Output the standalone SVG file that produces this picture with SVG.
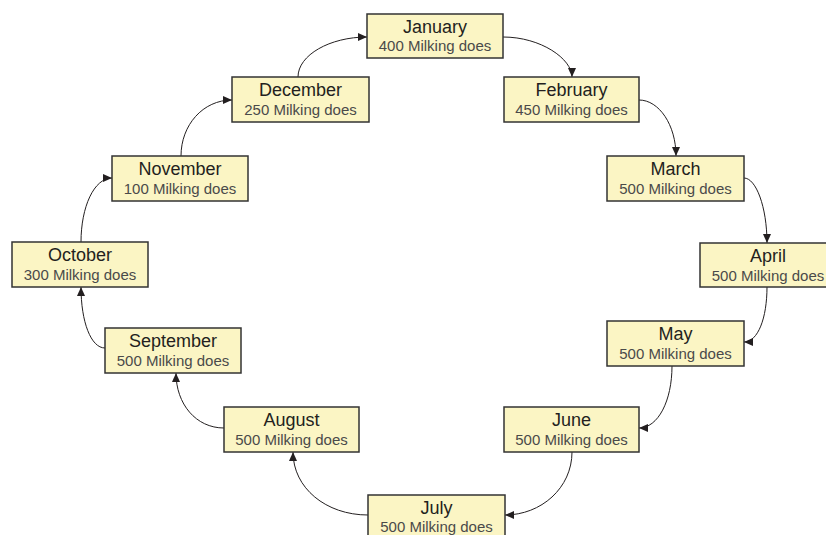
<svg xmlns="http://www.w3.org/2000/svg" width="826" height="535" viewBox="0 0 826 535">
<style>
.box{fill:#fbf5c4;stroke:#333;stroke-width:1.5}
.t{font-family:"Liberation Sans",Arial,sans-serif;font-size:18px;fill:#231f20;text-anchor:middle}
.s{font-family:"Liberation Sans",Arial,sans-serif;font-size:15px;fill:#4a4a4a;text-anchor:middle}
.c{fill:none;stroke:#231f20;stroke-width:1;marker-end:url(#ah)}
</style>
<defs>
<marker id="ah" markerUnits="userSpaceOnUse" markerWidth="10" markerHeight="8" refX="9" refY="4" orient="auto">
<path d="M0,0 L9,4 L0,8 Z" fill="#231f20"/>
</marker>
</defs>
<rect width="826" height="535" fill="#fff"/>
<g id="connectors">
<path class="c" d="M503,37 C541,37 572,59 572,77"/>
<path class="c" d="M639,100 C659,100 676,125 676,156"/>
<path class="c" d="M744,178 C756,178 767,207 767,243"/>
<path class="c" d="M767,287 C767,318 758,342 744,342"/>
<path class="c" d="M672,366 C672,401 658,428 639,428"/>
<path class="c" d="M572,452 C572,488 541,515 505,515"/>
<path class="c" d="M368,515 C326,515 293,488 293,452"/>
<path class="c" d="M224,428 C196,428 176,404 176,373"/>
<path class="c" d="M105,348 C91,348 81,322 81,287"/>
<path class="c" d="M81,242 C81,207 94,178 112,178"/>
<path class="c" d="M181,156 C181,125 203,100 232,100"/>
<path class="c" d="M298,77 C298,55 330,37 367,37"/>
</g>
<g id="january"><rect class="box" x="367" y="14" width="136" height="44"/><text class="t" x="435" y="33">January</text><text class="s" x="435" y="51">400 Milking does</text></g>
<g id="february"><rect class="box" x="504" y="77" width="135" height="45"/><text class="t" x="571.5" y="96">February</text><text class="s" x="571.5" y="115">450 Milking does</text></g>
<g id="march"><rect class="box" x="607" y="156" width="137" height="45"/><text class="t" x="675.5" y="175">March</text><text class="s" x="675.5" y="194">500 Milking does</text></g>
<g id="april"><rect class="box" x="700" y="243" width="136" height="44"/><text class="t" x="768" y="262">April</text><text class="s" x="768" y="281">500 Milking does</text></g>
<g id="may"><rect class="box" x="607" y="321" width="137" height="45"/><text class="t" x="675.5" y="340">May</text><text class="s" x="675.5" y="359">500 Milking does</text></g>
<g id="june"><rect class="box" x="504" y="407" width="135" height="45"/><text class="t" x="571.5" y="426">June</text><text class="s" x="571.5" y="445">500 Milking does</text></g>
<g id="july"><rect class="box" x="368" y="495" width="137" height="45"/><text class="t" x="436.5" y="514">July</text><text class="s" x="436.5" y="532">500 Milking does</text></g>
<g id="august"><rect class="box" x="224" y="407" width="135" height="45"/><text class="t" x="291.5" y="426">August</text><text class="s" x="291.5" y="445">500 Milking does</text></g>
<g id="september"><rect class="box" x="105" y="328" width="136" height="45"/><text class="t" x="173" y="347">September</text><text class="s" x="173" y="366">500 Milking does</text></g>
<g id="october"><rect class="box" x="12" y="242" width="136" height="45"/><text class="t" x="80" y="261">October</text><text class="s" x="80" y="280">300 Milking does</text></g>
<g id="november"><rect class="box" x="112" y="156" width="136" height="45"/><text class="t" x="180" y="175">November</text><text class="s" x="180" y="194">100 Milking does</text></g>
<g id="december"><rect class="box" x="232" y="77" width="137" height="45"/><text class="t" x="300.5" y="96">December</text><text class="s" x="300.5" y="115">250 Milking does</text></g>
</svg>
